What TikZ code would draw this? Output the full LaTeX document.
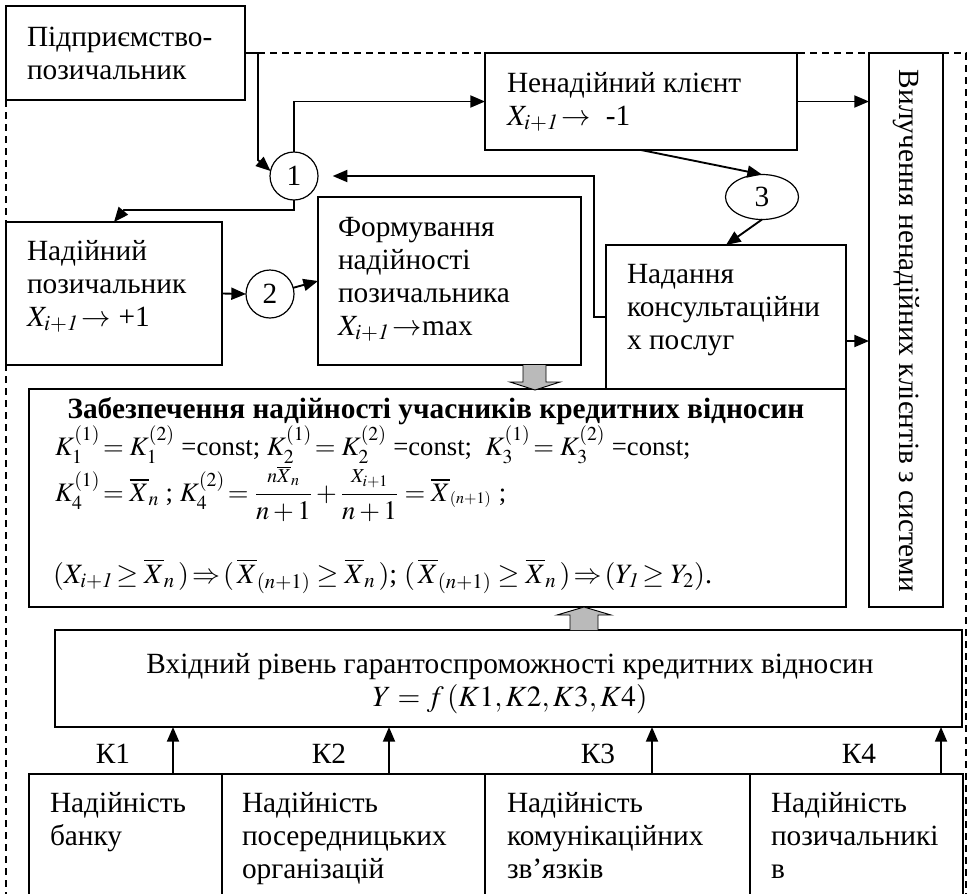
\documentclass[tikz,border=0pt]{standalone}
\usepackage{mathptmx}
\usepackage{fontspec}
\setmainfont{Liberation Serif}
\usetikzlibrary{arrows.meta,fit,shapes.geometric}
\newcommand\KKsup[3]{#1_{#2}^{\raisebox{-7pt}{$\scriptstyle(#3)$}}}
\begin{document}
\begin{tikzpicture}[x=0.75pt,y=-0.75pt,
  every node/.style={font=\fontsize{22}{24.75}\selectfont},
  box/.style={draw,line width=1.4pt,inner sep=0pt,outer sep=0pt},
  txt/.style={inner sep=0pt,outer sep=0pt,anchor=base west,align=left},
  ctxt/.style={inner sep=0pt,outer sep=0pt,anchor=base},
  formula/.style={txt,font=\fontsize{20}{24}\selectfont},
  conn/.style={line width=1.4pt,-{Triangle[length=11pt,width=9pt]}},
  dashframe/.style={line width=1.1pt,dash pattern=on 5.5pt off 3.5pt},
  blockarrow/.style={draw,line width=0.7pt,fill=black!27},
  ring/.style={draw,line width=0.9pt,inner sep=0pt,outer sep=0pt}]
\useasboundingbox (0,0) rectangle (973,893);
% dashed frame
\draw[dashframe] (258,53) -- (966,53) -- (966,900);
\draw[dashframe] (6,100) -- (6,900);
% boxes (text nodes: anchor = baseline of last line)
\node[box,fill=white,fit={(6,6)(245,100)}] (pp) {};
\node[txt] (ppt) at (27,79) {Підприємство-\\позичальник};
\node[box,fill=white,fit={(485,53)(797,150)}] (nk) {};
\node[txt] (nkt) at (507,125) {Ненадійний клієнт\\$X_{i+\mathit{1}}\!\rightarrow$\ \ -1};
\node[box,fill=white,fit={(869,53)(943,607)}] (vy) {};
\node[inner sep=0pt,rotate=-90] (vyt) at (906,331) {Вилучення ненадійних клієнтів з системи};
\node[box,fill=white,fit={(6,222)(222,365)}] (nh) {};
\node[txt] (nht) at (27,326) {Надійний\\позичальник\\$X_{i+\mathit{1}}\!\rightarrow$ +1};
\node[box,fill=white,fit={(318,197)(581,365)}] (fm) {};
\node[txt] (fmt) at (338,335) {Формування\\надійності\\позичальника\\$X_{i+\mathit{1}}\!\rightarrow$max};
\node[box,fill=white,fit={(606,245)(846,389)}] (nd) {};
\node[txt] (ndt) at (627,349) {Надання\\консультаційни\\х послуг};
\node[box,fit={(29,389)(846,607)}] (zb) {};
\node[ctxt] (zbt) at (436,418) {\textbf{Забезпечення надійності учасників кредитних відносин}};
\node[formula] (zb1) at (55,455) {$\KKsup{K}{1}{1}\!=\KKsup{K}{1}{2}$ =const; $\KKsup{K}{2}{1}\!=\KKsup{K}{2}{2}$ =const;\ \ $\KKsup{K}{3}{1}\!=\KKsup{K}{3}{2}$ =const;};
\node[formula] (zb2) at (55,501) {$\KKsup{K}{4}{1}\!=\overline{X}_n$ ;\ $\KKsup{K}{4}{2}\!={\displaystyle\frac{\scriptstyle n\overline{X}_{n}}{n+1}}+{\displaystyle\frac{\scriptstyle X_{i+1}}{n+1}}=\overline{X}_{{}^{(n+1)}}$ ;};
\node[formula,font=\fontsize{21}{24}\selectfont] (zb3) at (53,583) {$(X_{i+\mathit{1}}\!\ge\overline{X}_n\,)\!\Rightarrow\!(\,\overline{X}_{(n+1)}\ge\overline{X}_n\,)$; $(\,\overline{X}_{(n+1)}\ge\overline{X}_n\,)\!\Rightarrow\!(Y_{\mathit{1}}\!\ge Y_2)$.};
\node[box,fit={(55,630)(962,727)}] (vx) {};
\node[ctxt] (vxt1) at (510,673) {Вхідний рівень гарантоспроможності кредитних відносин};
\node[ctxt] (vxt2) at (510,706) {$Y=f\,(K1,K2,K3,K4)$};
% bottom boxes
\node[box,fit={(29,774)(222,920)}] (b1) {};
\node[box,fit={(222,774)(485,920)}] (b2) {};
\node[box,fit={(485,774)(750,920)}] (b3) {};
\node[box,fit={(750,774)(963,920)}] (b4) {};
\node[txt] (b1t) at (50,845) {Надійність\\банку};
\node[txt] (b2t) at (242,878) {Надійність\\посередницьких\\організацій};
\node[txt] (b3t) at (507,878) {Надійність\\комунікаційних\\зв’язків};
\node[txt] (b4t) at (771,878) {Надійність\\позичальникі\\в};
% K labels
\node[ctxt] (k1) at (113,763) {К1};
\node[ctxt] (k2) at (329,763) {К2};
\node[ctxt] (k3) at (598,763) {К3};
\node[ctxt] (k4) at (859,763) {К4};
% circles
\node[ring,circle,minimum size=36pt] (c1) at (294,176) {1};
\node[ring,circle,minimum size=36pt] (c2) at (270,294) {2};
\node[ring,ellipse,minimum width=54.75pt,minimum height=33.75pt] (e3) at (762,197) {3};
% connectors
\draw[conn] (pp.east) -- (258,53) -- (258,160) -- (c1.168);
\draw[conn] (c1.north) |- (nk.west);
\draw[conn] (nd.west |- 0,317) -- (594,317) -- (594,176) -- ([xshift=11pt]c1.east);
\draw[conn] (c1.south) |- (124,210) -- (nh.north);
\draw[conn] (nh.east) -- (c2.west);
\draw[conn] (c2.15) -- (fm.west);
\draw[conn] (nk.east) -- (vy.west |- nk.east);
\draw[conn] (nk.south) -- (e3.north);
\draw[conn] (e3.south) -- (nd.north);
\draw[conn] (nd.east |- 0,341) -- (vy.west |- 0,341);
\draw[conn] (b1.north -| 173,0) -- (vx.south -| 173,0);
\draw[conn] (b2.north -| 389,0) -- (vx.south -| 389,0);
\draw[conn] (b3.north -| 652,0) -- (vx.south -| 652,0);
\draw[conn] (b4.north -| 941,0) -- (vx.south -| 941,0);
% block arrows
\draw[blockarrow] (523,365) -- (523,382) -- (510,382) -- (535,390) -- (560,382) -- (546,382) -- (546,365);
\draw[blockarrow] (570,630) -- (570,615) -- (557,615) -- (584,607) -- (611,615) -- (598,615) -- (598,630);
\end{tikzpicture}
\end{document}
